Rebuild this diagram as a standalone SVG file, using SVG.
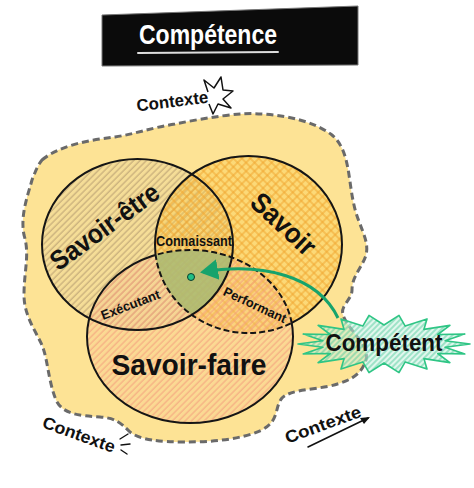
<svg xmlns="http://www.w3.org/2000/svg" width="474" height="488" viewBox="0 0 474 488">
<style>
.lbl{font-family:"Liberation Sans",Arial,sans-serif;font-weight:bold;fill:#111}
.ring{fill:none;stroke:#151515;stroke-width:2}
.dash{stroke-dasharray:6 3}
.ctx{font-family:"Liberation Sans",Arial,sans-serif;font-weight:bold;font-size:17px;fill:#111}
</style>
<defs>
<pattern id="hA" width="4.5" height="4.5" patternUnits="userSpaceOnUse" patternTransform="rotate(45)"><line x1="1" y1="0" x2="1" y2="4.5" stroke="#b39a6e" stroke-width="0.9"/></pattern>
<pattern id="hB" width="6" height="6" patternUnits="userSpaceOnUse" patternTransform="rotate(45)"><line x1="1" y1="0" x2="1" y2="6" stroke="#f0a630" stroke-width="1"/><line x1="0" y1="1" x2="6" y2="1" stroke="#f0a630" stroke-width="1"/></pattern>
<pattern id="hC" width="4.5" height="4.5" patternUnits="userSpaceOnUse" patternTransform="rotate(45)"><line x1="1" y1="0" x2="1" y2="4.5" stroke="#f39c7c" stroke-width="0.9"/></pattern>
<pattern id="hT" width="4" height="4" patternUnits="userSpaceOnUse" patternTransform="rotate(45)"><line x1="1" y1="0" x2="1" y2="4" stroke="#4cc99a" stroke-width="0.9"/></pattern>
<clipPath id="inA"><ellipse cx="137.5" cy="244.5" rx="95.5" ry="85.5"/></clipPath>
<clipPath id="inB"><ellipse cx="248.5" cy="244.5" rx="93.5" ry="88.5"/></clipPath>
<clipPath id="inC"><ellipse cx="190" cy="336.5" rx="103" ry="86.5"/></clipPath>
<mask id="notB"><rect width="474" height="488" fill="#fff"/><ellipse cx="248.5" cy="244.5" rx="93.5" ry="88.5" fill="#000"/></mask>
<mask id="notC"><rect width="474" height="488" fill="#fff"/><ellipse cx="190" cy="336.5" rx="103" ry="86.5" fill="#000"/></mask>
<marker id="ah" markerWidth="8" markerHeight="8" refX="5" refY="4" orient="auto" markerUnits="strokeWidth"><path d="M0,0.5 L6,4 L0,7.5 Z" fill="#17a36c"/></marker>
</defs>
<rect width="474" height="488" fill="#fff"/>

<g id="title">
<polygon points="102,15 358,6 358,65 102,66" fill="#0b0b0b" stroke="#777" stroke-width="1"/>
<text x="208" y="44" text-anchor="middle" font-family="Liberation Sans,Arial,sans-serif" font-weight="bold" font-size="28" fill="#fff" textLength="138" lengthAdjust="spacingAndGlyphs">Compétence</text>
<line x1="138" y1="53" x2="278" y2="52" stroke="#ddd" stroke-width="2" stroke-linecap="round"/>
</g>

<g id="contexte-zone">
<path d="M42,160 C60,145 90,140 115,137 C135,134 150,128 175,124 C205,118 240,112 262,114 C290,116 315,122 332,135 C350,150 348,180 354,205 C358,225 370,240 366,255 C362,268 352,276 352,290 C352,300 340,305 343,315 C348,330 370,345 366,360 C362,372 355,380 330,386 C310,390 290,390 282,398 C274,408 280,420 262,430 C240,440 210,442 185,442 C160,442 140,440 130,432 C120,422 115,418 100,417 C80,416 62,414 56,400 C48,380 48,360 42,345 C35,330 24,315 24,295 C24,270 30,255 24,235 C20,215 28,195 32,180 C36,170 38,165 42,160 Z" fill="#fde395" stroke="#6a6a6a" stroke-width="3" stroke-dasharray="7 4"/>
</g>

<g id="savoir-etre">
<ellipse cx="137.5" cy="244.5" rx="95.5" ry="85.5" fill="#ecd49a" fill-opacity="0.45"/>
<ellipse cx="137.5" cy="244.5" rx="95.5" ry="85.5" fill="url(#hA)"/>
</g>
<g id="savoir">
<ellipse cx="248.5" cy="244.5" rx="93.5" ry="88.5" fill="#fbcb4c" fill-opacity="0.4"/>
<ellipse cx="248.5" cy="244.5" rx="93.5" ry="88.5" fill="url(#hB)"/>
</g>
<g id="savoir-faire">
<ellipse cx="190" cy="336.5" rx="103" ry="86.5" fill="#f8c58f" fill-opacity="0.3"/>
<ellipse cx="190" cy="336.5" rx="103" ry="86.5" fill="url(#hC)"/>
</g>
<g id="connaissant-zone" clip-path="url(#inA)">
<g clip-path="url(#inB)">
<ellipse cx="190" cy="336.5" rx="103" ry="86.5" fill="#a9bb72" fill-opacity="0.85"/>
</g>
</g>

<g id="rings">
<ellipse class="ring" cx="137.5" cy="244.5" rx="95.5" ry="85.5"/>
<ellipse class="ring" cx="248.5" cy="244.5" rx="93.5" ry="88.5" mask="url(#notC)"/>
<ellipse class="ring dash" cx="248.5" cy="244.5" rx="93.5" ry="88.5" clip-path="url(#inC)"/>
<ellipse class="ring" cx="190" cy="336.5" rx="103" ry="86.5" mask="url(#notB)"/>
<ellipse class="ring dash" cx="190" cy="336.5" rx="103" ry="86.5" clip-path="url(#inB)"/>
</g>

<g id="labels">
<text class="lbl" font-size="27" text-anchor="middle" transform="translate(110,234) rotate(-36)" textLength="128" lengthAdjust="spacingAndGlyphs">Savoir-être</text>
<text class="lbl" font-size="28" text-anchor="middle" transform="translate(277,231) rotate(43)" textLength="78" lengthAdjust="spacingAndGlyphs">Savoir</text>
<text class="lbl" font-size="29" text-anchor="middle" x="189" y="375" textLength="155" lengthAdjust="spacingAndGlyphs">Savoir-faire</text>
<text class="lbl" font-size="14" text-anchor="middle" x="194" y="246" textLength="76" lengthAdjust="spacingAndGlyphs">Connaissant</text>
<text class="lbl" font-size="13" text-anchor="middle" transform="translate(132,309) rotate(-21)" textLength="62" lengthAdjust="spacingAndGlyphs">Exécutant</text>
<text class="lbl" font-size="13" text-anchor="middle" transform="translate(253,309) rotate(25)" textLength="68" lengthAdjust="spacingAndGlyphs">Performant</text>
</g>

<g id="competent">
<polygon points="470,344 445.1,347.3 464.8,353.9 437.7,353.5 449.9,362.6 423.9,358.6 427,369.1 405.2,361.9 399,372.6 384,363 369,372.6 362.8,361.9 341,369.1 344.1,358.6 318.1,362.6 330.3,353.5 303.2,353.9 322.9,347.3 298,344 322.9,340.7 303.2,334.1 330.3,334.5 318.1,325.4 344.1,329.4 341,318.9 362.8,326.1 369,315.4 384,325 399,315.4 405.2,326.1 427,318.9 423.9,329.4 449.9,325.4 437.7,334.5 464.8,334.1 445.1,340.7" fill="#c9f0df" fill-opacity="0.55" stroke="none"/>
<polygon points="470,344 445.1,347.3 464.8,353.9 437.7,353.5 449.9,362.6 423.9,358.6 427,369.1 405.2,361.9 399,372.6 384,363 369,372.6 362.8,361.9 341,369.1 344.1,358.6 318.1,362.6 330.3,353.5 303.2,353.9 322.9,347.3 298,344 322.9,340.7 303.2,334.1 330.3,334.5 318.1,325.4 344.1,329.4 341,318.9 362.8,326.1 369,315.4 384,325 399,315.4 405.2,326.1 427,318.9 423.9,329.4 449.9,325.4 437.7,334.5 464.8,334.1 445.1,340.7" fill="url(#hT)" stroke="#2fc585" stroke-width="1.6" stroke-linejoin="round"/>
<text class="lbl" font-size="24" text-anchor="middle" x="384" y="351" textLength="117" lengthAdjust="spacingAndGlyphs">Compétent</text>
</g>

<g id="connectors">
<path d="M338,318 C318,276 262,262 203,272" fill="none" stroke="#17a36c" stroke-width="3" marker-end="url(#ah)"/>
</g>
<g id="point">
<circle cx="191" cy="277" r="3.5" fill="#1fbf85" stroke="#0b3b2a" stroke-width="1"/>
</g>

<g id="contexte-top">
<text class="ctx" text-anchor="middle" transform="translate(173,107) rotate(-7)" textLength="72" lengthAdjust="spacingAndGlyphs">Contexte</text>
<polyline points="208,92 204,80 214,88 221,77 223,90 233,91 223,99 231,108 218,104 213,114 209,104" fill="none" stroke="#111" stroke-width="1.5" stroke-linejoin="round"/>
</g>
<g id="contexte-bl">
<text class="ctx" text-anchor="middle" transform="translate(77,440) rotate(20)" textLength="76" lengthAdjust="spacingAndGlyphs">Contexte</text>
<path d="M120,439 L128,434 M121,445 L130,444 M121,450 L127,454" stroke="#111" stroke-width="1.4" stroke-linecap="round" fill="none"/>
</g>
<g id="contexte-br">
<text class="ctx" text-anchor="middle" transform="translate(325,430) rotate(-20)" textLength="80" lengthAdjust="spacingAndGlyphs">Contexte</text>
<line x1="308" y1="447" x2="368" y2="418" stroke="#111" stroke-width="1.6" stroke-linecap="round"/>
<path d="M370,417 L360,418 L364,424 Z" fill="#111"/>
</g>
</svg>
